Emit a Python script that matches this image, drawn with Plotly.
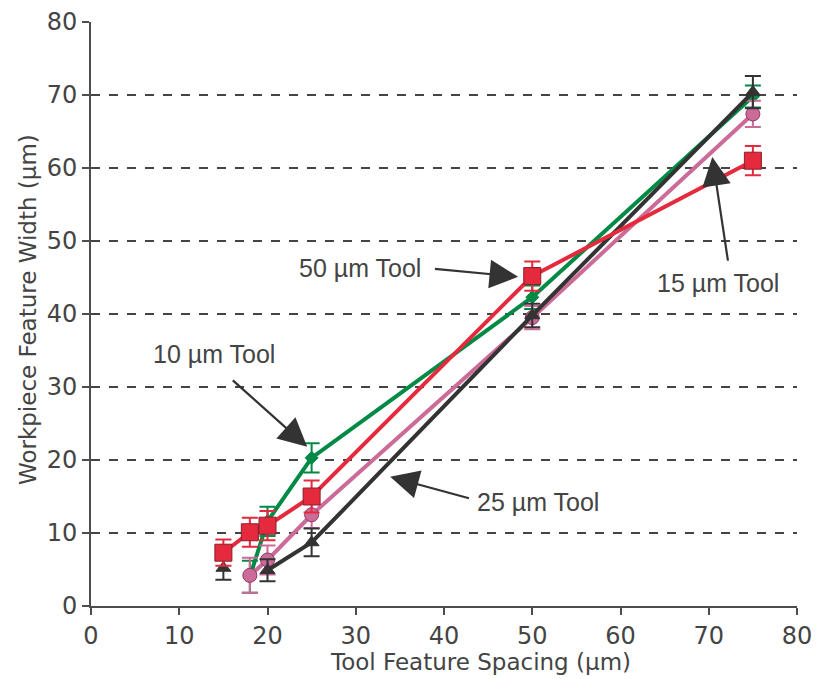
import plotly.graph_objects as go

# ---- data ----
x_green = [18, 20, 25, 50, 75]
y_green = [4.0, 11.6, 20.3, 42.3, 69.8]
e_green = [2.2, 2.0, 2.0, 1.6, 1.5]

x_pink = [18, 20, 25, 50, 75]
y_pink = [4.2, 6.3, 12.5, 39.5, 67.4]
e_pink = [2.4, 2.0, 1.8, 1.6, 1.8]

x_black = [15, 18, 20, 25, 50, 75]
y_black = [5.2, None, 4.9, 8.7, 39.8, 70.4]
e_black = [1.6, 0, 1.5, 1.9, 1.6, 2.2]

x_red = [15, 18, 20, 25, 50, 75]
y_red = [7.3, 10.1, 11.0, 15.0, 45.2, 61.0]
e_red = [1.8, 2.0, 2.0, 2.2, 2.0, 2.0]

ticks = [0, 10, 20, 30, 40, 50, 60, 70, 80]

labels = ["50 µm Tool", "10 µm Tool", "25 µm Tool", "15 µm Tool"]
label_pos = [(30.5, 46.3), (13.9, 34.5), (50.6, 14.2), (71.0, 44.2)]
arrow_tail = [(38.8, 46.2), (15.9, 31.1), (43.0, 14.7), (72.2, 47.1)]
arrow_head = [(48.4, 45.1), (24.5, 21.8), (33.9, 17.7), (70.4, 61.5)]

GREEN = "#008a45"
PINK = "#cc6b98"
BLACK = "#333333"
RED = "#e42a3c"
TXT = "#444444"

fig = go.Figure()

def add(x, y, e, color, symbol, size, lw, mline):
    fig.add_trace(go.Scatter(
        x=x, y=y, mode="lines+markers", connectgaps=False,
        line=dict(color=color, width=lw),
        marker=dict(symbol=symbol, size=size, color=color,
                    line=dict(color=mline, width=1)),
        error_y=dict(type="data", array=e, visible=True, color=color,
                     thickness=2, width=8),
        showlegend=False, hoverinfo="skip"))

add(x_green, y_green, e_green, GREEN, "diamond", 10, 4, GREEN)
add(x_pink, y_pink, e_pink, PINK, "circle", 14, 4, "#8a3a62")
add(x_black, y_black, e_black, BLACK, "triangle-up", 13, 4, BLACK)
add(x_red, y_red, e_red, RED, "square", 17, 4, "#8a1e2c")

annotations = []
for t, (tx, ty) in zip(labels, label_pos):
    annotations.append(dict(x=tx, y=ty, xref="x", yref="y", text=t,
                            showarrow=False,
                            font=dict(family="Liberation Sans, Arial", size=25, color=TXT)))
for (ax, ay), (hx, hy) in zip(arrow_tail, arrow_head):
    annotations.append(dict(x=hx, y=hy, ax=ax, ay=ay, xref="x", yref="y",
                            axref="x", ayref="y", text="", showarrow=True,
                            arrowhead=2, arrowsize=2.6, arrowwidth=2.2,
                            arrowcolor=BLACK, standoff=0, startstandoff=0))
annotations.append(dict(x=0.552, y=0, xref="paper", yref="paper",
                        yshift=-56, yanchor="middle", xanchor="center",
                        text="Tool Feature Spacing (µm)", showarrow=False,
                        font=dict(family="DejaVu Sans", size=23, color=TXT)))
annotations.append(dict(x=0, y=0.5, xref="paper", yref="paper",
                        xshift=-63, yshift=4, textangle=-90,
                        xanchor="center", yanchor="middle",
                        text="Workpiece Feature Width (µm)", showarrow=False,
                        font=dict(family="DejaVu Sans", size=23, color=TXT)))

axis_common = dict(
    range=[0, 80], tickvals=ticks, ticktext=[str(t) for t in ticks],
    showline=True, linecolor="#4d4d4d", linewidth=2,
    ticks="outside", ticklen=7, tickwidth=2, tickcolor="#4d4d4d",
    tickfont=dict(family="DejaVu Sans", size=24, color=TXT),
    zeroline=False, fixedrange=True, automargin=False,
)

fig.update_layout(
    width=819, height=679,
    margin=dict(l=91, r=22, t=22, b=73),
    paper_bgcolor="white", plot_bgcolor="white",
    xaxis=dict(**axis_common, showgrid=False),
    yaxis=dict(**axis_common, showgrid=True, gridcolor="#444444",
               gridwidth=1.5, griddash="dash"),
    annotations=annotations,
)

fig.write_html("out.html")
